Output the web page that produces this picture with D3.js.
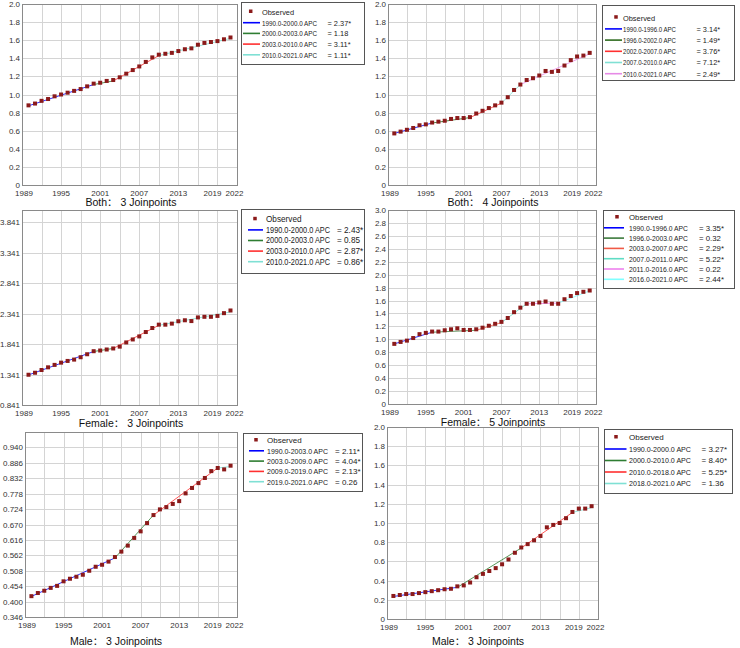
<!DOCTYPE html>
<html lang="en">
<head>
<meta charset="UTF-8">
<title>Joinpoint trends</title>
<script src="https://cdnjs.cloudflare.com/ajax/libs/d3/7.8.5/d3.min.js"></script>
<style>
  html, body { margin: 0; padding: 0; background: #fff; }
  svg { display: block; }
  .tick-label { font-family: "Liberation Sans", Arial, sans-serif; font-size: 8px; fill: #333; }
  .legend-text { font-family: "Liberation Sans", Arial, sans-serif; fill: #222; }
  .title { font-family: "Liberation Sans", "Noto Sans CJK SC", sans-serif; font-size: 10.5px; fill: #111; }
</style>
</head>
<body>
<svg id="chart" width="740" height="648"></svg>
<script>
// observation years
const years = [1990, 1991, 1992, 1993, 1994, 1995, 1996, 1997, 1998, 1999, 2000, 2001, 2002, 2003, 2004, 2005,
               2006, 2007, 2008, 2009, 2010, 2011, 2012, 2013, 2014, 2015, 2016, 2017, 2018, 2019, 2020, 2021];
const xTickLabels = [1989, 1995, 2001, 2007, 2013, 2019, 2022];
const xGrid = [1992, 1995, 1998, 2001, 2004, 2007, 2010, 2013, 2016, 2019];

// Both, 3 joinpoints
const both3Obs = [0.88, 0.90, 0.93, 0.95, 0.98, 1.00, 1.02, 1.04, 1.06, 1.09, 1.12, 1.13, 1.15, 1.16, 1.19, 1.23,
                  1.27, 1.31, 1.36, 1.41, 1.44, 1.45, 1.46, 1.48, 1.50, 1.51, 1.55, 1.57, 1.58, 1.59, 1.61, 1.63];
const both3Joins = [1990, 2000, 2003, 2010, 2021];
const both3Fit = [0.875, 1.11, 1.15, 1.43, 1.62];
const both3Labels = ["1990.0-2000.0 APC", "2000.0-2003.0 APC", "2003.0-2010.0 APC", "2010.0-2021.0 APC"];
const both3Apc = ["= 2.37*", "= 1.18", "= 3.11*", "= 1.11*"];

// Both, 4 joinpoints
const both4Obs = [0.57, 0.59, 0.61, 0.63, 0.66, 0.67, 0.69, 0.70, 0.71, 0.73, 0.74, 0.74, 0.75, 0.79, 0.82, 0.85,
                  0.88, 0.91, 0.97, 1.05, 1.11, 1.16, 1.18, 1.21, 1.26, 1.25, 1.26, 1.32, 1.38, 1.42, 1.43, 1.46];
const both4Joins = [1990, 1996, 2002, 2007, 2010, 2021];
const both4Fit = [0.57, 0.685, 0.745, 0.905, 1.11, 1.45];
const both4Labels = ["1990.0-1996.0 APC", "1996.0-2002.0 APC", "2002.0-2007.0 APC", "2007.0-2010.0 APC", "2010.0-2021.0 APC"];
const both4Apc = ["= 3.14*", "= 1.49*", "= 3.76*", "= 7.12*", "= 2.49*"];

// Female, 3 joinpoints
const female3Obs = [1.338, 1.371, 1.416, 1.460, 1.500, 1.537, 1.565, 1.587, 1.626, 1.675, 1.725, 1.736, 1.753, 1.770, 1.800, 1.869,
                    1.918, 1.968, 2.040, 2.106, 2.161, 2.161, 2.178, 2.217, 2.233, 2.220, 2.280, 2.290, 2.290, 2.305, 2.350, 2.394];
const female3Joins = [1990, 2000, 2003, 2010, 2021];
const female3Fit = [1.335, 1.72, 1.77, 2.15, 2.37];
const female3Labels = ["1990.0-2000.0 APC", "2000.0-2003.0 APC", "2003.0-2010.0 APC", "2010.0-2021.0 APC"];
const female3Apc = ["= 2.43*", "= 0.85", "= 2.87*", "= 0.86*"];

// Female, 5 joinpoints
const female5Obs = [0.93, 0.96, 0.98, 1.02, 1.08, 1.10, 1.12, 1.12, 1.14, 1.155, 1.17, 1.145, 1.145, 1.155, 1.18, 1.21,
                    1.24, 1.27, 1.33, 1.42, 1.49, 1.55, 1.55, 1.57, 1.585, 1.55, 1.55, 1.62, 1.67, 1.715, 1.735, 1.755];
const female5Joins = [1990, 1996, 2003, 2007, 2011, 2016, 2021];
const female5Fit = [0.93, 1.11, 1.14, 1.26, 1.55, 1.56, 1.75];
const female5Labels = ["1990.0-1996.0 APC", "1996.0-2003.0 APC", "2003.0-2007.0 APC", "2007.0-2011.0 APC", "2011.0-2016.0 APC", "2016.0-2021.0 APC"];
const female5Apc = ["= 3.35*", "= 0.32", "= 2.29*", "= 5.22*", "= 0.22", "= 2.44*"];

// Male, 3 joinpoints (left)
const maleAObs = [0.419, 0.430, 0.438, 0.448, 0.455, 0.471, 0.480, 0.487, 0.494, 0.508, 0.522, 0.529, 0.540, 0.556, 0.575, 0.596,
                  0.623, 0.646, 0.675, 0.703, 0.723, 0.731, 0.742, 0.752, 0.779, 0.798, 0.815, 0.833, 0.857, 0.868, 0.863, 0.876];
const maleAJoins = [1990, 2003, 2009, 2019, 2021];
const maleAFit = [0.418, 0.553, 0.703, 0.868, 0.873];
const maleALabels = ["1990.0-2003.0 APC", "2003.0-2009.0 APC", "2009.0-2019.0 APC", "2019.0-2021.0 APC"];
const maleAApc = ["= 2.11*", "= 4.04*", "= 2.13*", "= 0.26"];

// Male, 3 joinpoints (right)
const maleBObs = [0.24, 0.25, 0.26, 0.26, 0.27, 0.28, 0.29, 0.30, 0.31, 0.315, 0.34, 0.35, 0.38, 0.435, 0.47, 0.50,
                  0.53, 0.57, 0.62, 0.69, 0.745, 0.78, 0.82, 0.865, 0.955, 0.98, 1.00, 1.05, 1.115, 1.15, 1.15, 1.175];
const maleBJoins = [1990, 2000, 2010, 2018, 2021];
const maleBFit = [0.235, 0.33, 0.74, 1.11, 1.16];
const maleBLabels = ["1990.0-2000.0 APC", "2000.0-2010.0 APC", "2010.0-2018.0 APC", "2018.0-2021.0 APC"];
const maleBApc = ["= 3.27*", "= 8.40*", "= 5.25*", "= 1.36"];

// y tick values
const ticks0to2 = [0, 0.2, 0.4, 0.6, 0.8, 1.0, 1.2, 1.4, 1.6, 1.8, 2.0];
const ticks0to3 = [0, 0.2, 0.4, 0.6, 0.8, 1.0, 1.2, 1.4, 1.6, 1.8, 2.0, 2.2, 2.4, 2.6, 2.8, 3.0];
const ticksFemale3 = [0.841, 1.341, 1.841, 2.341, 2.841, 3.341, 3.841];
const ticksMaleA = [0.346, 0.400, 0.454, 0.508, 0.562, 0.616, 0.670, 0.724, 0.778, 0.832, 0.886, 0.940];

const segColors4 = ["#0000ff", "#2e7d32", "#ff3030", "#7fe0d4"];
const segColors5 = ["#0000ff", "#2e6b1f", "#ff3030", "#80e0d4", "#e68ae6"];
const segColors6 = ["#0000ff", "#3c7a3c", "#f05a46", "#5fdcc4", "#ee80ee", "#80ffff"];

// legend box: x, y, w, h, first row, row step, marker x, line x1, line x2, label x, "=" x, label width, font size
const panels = [
  { obs: both3Obs, joins: both3Joins, fit: both3Fit, labels: both3Labels, apc: both3Apc, colors: segColors4,
    plot: [22, 4, 237, 185], yDomain: [0, 2], yTicks: ticks0to2, fmt: "1",
    legend: [241, 2, 123, 62, 10, 10.7, 9.7, 2, 19, 21, 86.5, 55, 7.4],
    title: "Both\uff1a 3 Joinpoints", titleAt: [131, 206] },
  { obs: both4Obs, joins: both4Joins, fit: both4Fit, labels: both4Labels, apc: both4Apc, colors: segColors5,
    plot: [388, 4, 596, 185], yDomain: [0, 2], yTicks: ticks0to2, fmt: "1",
    legend: [602, 5, 132, 75, 12.7, 11.2, 14, 3, 20, 21, 94.5, 53, 7.4],
    title: "Both\uff1a 4 Joinpoints", titleAt: [493, 206] },
  { obs: female3Obs, joins: female3Joins, fit: female3Fit, labels: female3Labels, apc: female3Apc, colors: segColors4,
    plot: [22, 210, 237, 405], yDomain: [0.841, 4.045], yTicks: ticksFemale3, fmt: "3",
    legend: [241, 209, 123, 64, 10.3, 10.6, 14, 7, 22, 25, 96, 64, 8.2],
    title: "Female\uff1a 3 Joinpoints", titleAt: [131, 427] },
  { obs: female5Obs, joins: female5Joins, fit: female5Fit, labels: female5Labels, apc: female5Apc, colors: segColors6,
    plot: [388, 210, 596, 404], yDomain: [0, 3], yTicks: ticks0to3, fmt: "1",
    legend: [603, 210, 131, 78, 7.5, 10.3, 14, 1, 21, 26, 96, 59, 7.8],
    title: "Female\uff1a 5 Joinpoints", titleAt: [493, 426] },
  { obs: maleAObs, joins: maleAJoins, fit: maleAFit, labels: maleALabels, apc: maleAApc, colors: segColors4,
    plot: [25, 432, 237, 617], yDomain: [0.346, 0.994], yTicks: ticksMaleA, fmt: "3",
    legend: [243, 433, 119, 58, 7.5, 10.3, 13, 6, 21, 24, 92, 61, 8],
    title: "Male\uff1a 3 Joinpoints", titleAt: [116, 645] },
  { obs: maleBObs, joins: maleBJoins, fit: maleBFit, labels: maleBLabels, apc: maleBApc, colors: segColors4,
    plot: [387, 427, 598, 619], yDomain: [0, 2], yTicks: ticks0to2, fmt: "1",
    legend: [604, 429, 128, 64, 8.5, 11.5, 12, 1, 22.5, 25, 97.5, 62, 8],
    title: "Male\uff1a 3 Joinpoints", titleAt: [478, 645] }
];

const svg = d3.select("#chart");

function drawPanel(p) {
  const [x0, y0, x1, y1] = p.plot;
  const x = d3.scaleLinear().domain([1989, 2022]).range([x0, x1]);
  const y = d3.scaleLinear().domain(p.yDomain).range([y1, y0]);
  const g = svg.append("g");

  // grid
  g.selectAll(".vg").data(xGrid).enter().append("line")
    .attr("x1", d => Math.round(x(d)) + 0.5).attr("x2", d => Math.round(x(d)) + 0.5)
    .attr("y1", y0).attr("y2", y1)
    .attr("stroke", "#d4d4d4").attr("stroke-width", 1);
  g.selectAll(".hg").data(p.yTicks).enter().append("line")
    .attr("x1", x0).attr("x2", x1)
    .attr("y1", d => Math.round(y(d)) + 0.5).attr("y2", d => Math.round(y(d)) + 0.5)
    .attr("stroke", "#d4d4d4").attr("stroke-width", 1);

  // frame
  g.append("rect")
    .attr("x", x0 + 0.5).attr("y", y0 + 0.5)
    .attr("width", x1 - x0).attr("height", y1 - y0)
    .attr("fill", "none").attr("stroke", "#8a8a8a");

  // tick labels
  const fmt = p.fmt === "3" ? d3.format(".3f") : (d => d === 0 ? "0" : d3.format(".1f")(d));
  g.selectAll(".yl").data(p.yTicks).enter().append("text")
    .attr("class", "tick-label")
    .attr("x", x0 - 2).attr("y", d => y(d) + 3)
    .attr("text-anchor", "end")
    .text(fmt);
  g.selectAll(".xl").data(xTickLabels).enter().append("text")
    .attr("class", "tick-label")
    .attr("x", d => x(d)).attr("y", y1 + 10.5)
    .attr("dx", d => d === 2019 ? -5 : (d === 2022 ? -2.5 : (d === 1989 ? 2 : 0)))
    .attr("text-anchor", "middle")
    .text(d => d);

  // fitted segments
  const line = d3.line().x(d => x(d[0])).y(d => y(d[1]));
  for (let i = 0; i < p.joins.length - 1; i++) {
    g.append("path")
      .attr("d", line([[p.joins[i], p.fit[i]], [p.joins[i + 1], p.fit[i + 1]]]))
      .attr("fill", "none")
      .attr("stroke", p.colors[i])
      .attr("stroke-opacity", 0.8)
      .attr("stroke-width", 1);
  }

  // observed points
  g.selectAll(".pt").data(years).enter().append("rect")
    .attr("x", (d, i) => x(d) - 2).attr("y", (d, i) => y(p.obs[i]) - 2)
    .attr("width", 4).attr("height", 4)
    .attr("fill", "#8b1a1a");

  // legend
  const [lx, ly, lw, lh, first, step, mx, lx1, lx2, tx, ex, tw, fs] = p.legend;
  const lg = g.append("g").attr("transform", `translate(${lx},${ly})`);
  lg.append("rect").attr("x", 0.5).attr("y", 0.5).attr("width", lw).attr("height", lh)
    .attr("fill", "#fff").attr("stroke", "#555").attr("stroke-width", 1);
  lg.append("rect").attr("x", mx - 1.75).attr("y", first - 2.5).attr("width", 3.5).attr("height", 3.5).attr("fill", "#8b1a1a");
  lg.append("text").attr("class", "legend-text").style("font-size", fs + "px")
    .attr("x", tx).attr("y", first + 2.8).text("Observed");
  p.labels.forEach((lab, i) => {
    const cy = first + step * (i + 1);
    lg.append("line").attr("x1", lx1).attr("x2", lx2).attr("y1", cy).attr("y2", cy)
      .attr("stroke", p.colors[i]).attr("stroke-width", 1.6);
    lg.append("text").attr("class", "legend-text").style("font-size", fs + "px")
      .attr("x", tx).attr("y", cy + 2.8)
      .attr("textLength", tw).attr("lengthAdjust", "spacingAndGlyphs")
      .text(lab);
    lg.append("text").attr("class", "legend-text").style("font-size", fs + "px")
      .attr("x", ex).attr("y", cy + 2.8).text(p.apc[i]);
  });

  // title
  svg.append("text").attr("class", "title")
    .attr("x", p.titleAt[0]).attr("y", p.titleAt[1])
    .attr("text-anchor", "middle")
    .text(p.title);
}

panels.forEach(drawPanel);
</script>
</body>
</html>
